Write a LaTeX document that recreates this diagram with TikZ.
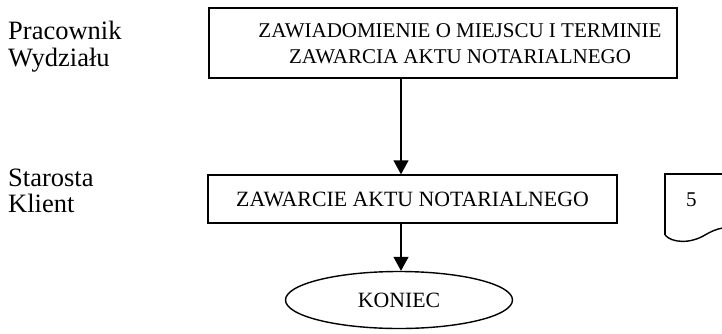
\documentclass[tikz,border=0pt]{standalone}
\usepackage{fontspec}
\setmainfont{Liberation Serif}
\usetikzlibrary{arrows.meta,shapes.geometric}
\begin{document}
\begin{tikzpicture}[x=1pt,y=-1pt,
  lbl/.style={anchor=base west,inner sep=0pt,font=\fontsize{26.5}{28}\selectfont},
  txt/.style={anchor=base,inner sep=0pt,font=\fontsize{21}{26}\selectfont},
  box/.style={draw,line width=1.4pt,inner sep=0pt,font=\fontsize{21.8}{26}\selectfont},
  arr/.style={line width=1.4pt,-{Triangle[length=14pt,width=15pt]}}]
\useasboundingbox (0,0) rectangle (722,333);
% lane labels
\node[lbl] (p1) at (8,39) {Pracownik};
\node[lbl] (p2) at (8,66) {Wydziału};
\node[lbl] (s1) at (8,186) {Starosta};
\node[lbl] (s2) at (8,212) {Klient};
% top box
\node[box,minimum width=468pt,minimum height=70pt] (b1) at (443,43) {};
\node[txt] (t1) at (460,37) {ZAWIADOMIENIE O MIEJSCU I TERMINIE};
\node[txt] (t2) at (460,63) {ZAWARCIA AKTU NOTARIALNEGO};
% second box
\node[box,minimum width=409pt,minimum height=48pt] (b2) at (412.5,199) {ZAWARCIE AKTU NOTARIALNEGO};
% end ellipse
\node[box,ellipse,minimum width=227pt,minimum height=57pt] (e) at (399,300) {KONIEC};
% arrows
\coordinate (ax) at (401,0);
\draw[arr] (b1.south -| ax) -- (b2.north -| ax);
\draw[arr] (b2.south -| ax) -- (e.north -| ax);
% document shape
\draw[line width=1.4pt] (665,235) -- (665,174) -- (730,174);
\draw[line width=1.4pt] (665,235) .. controls (672,243) and (690,244) .. (705,235) .. controls (712,231) and (718,228) .. (730,227);
\node[txt,anchor=base west] (n5) at (686,206) {5};
\end{tikzpicture}
\end{document}
